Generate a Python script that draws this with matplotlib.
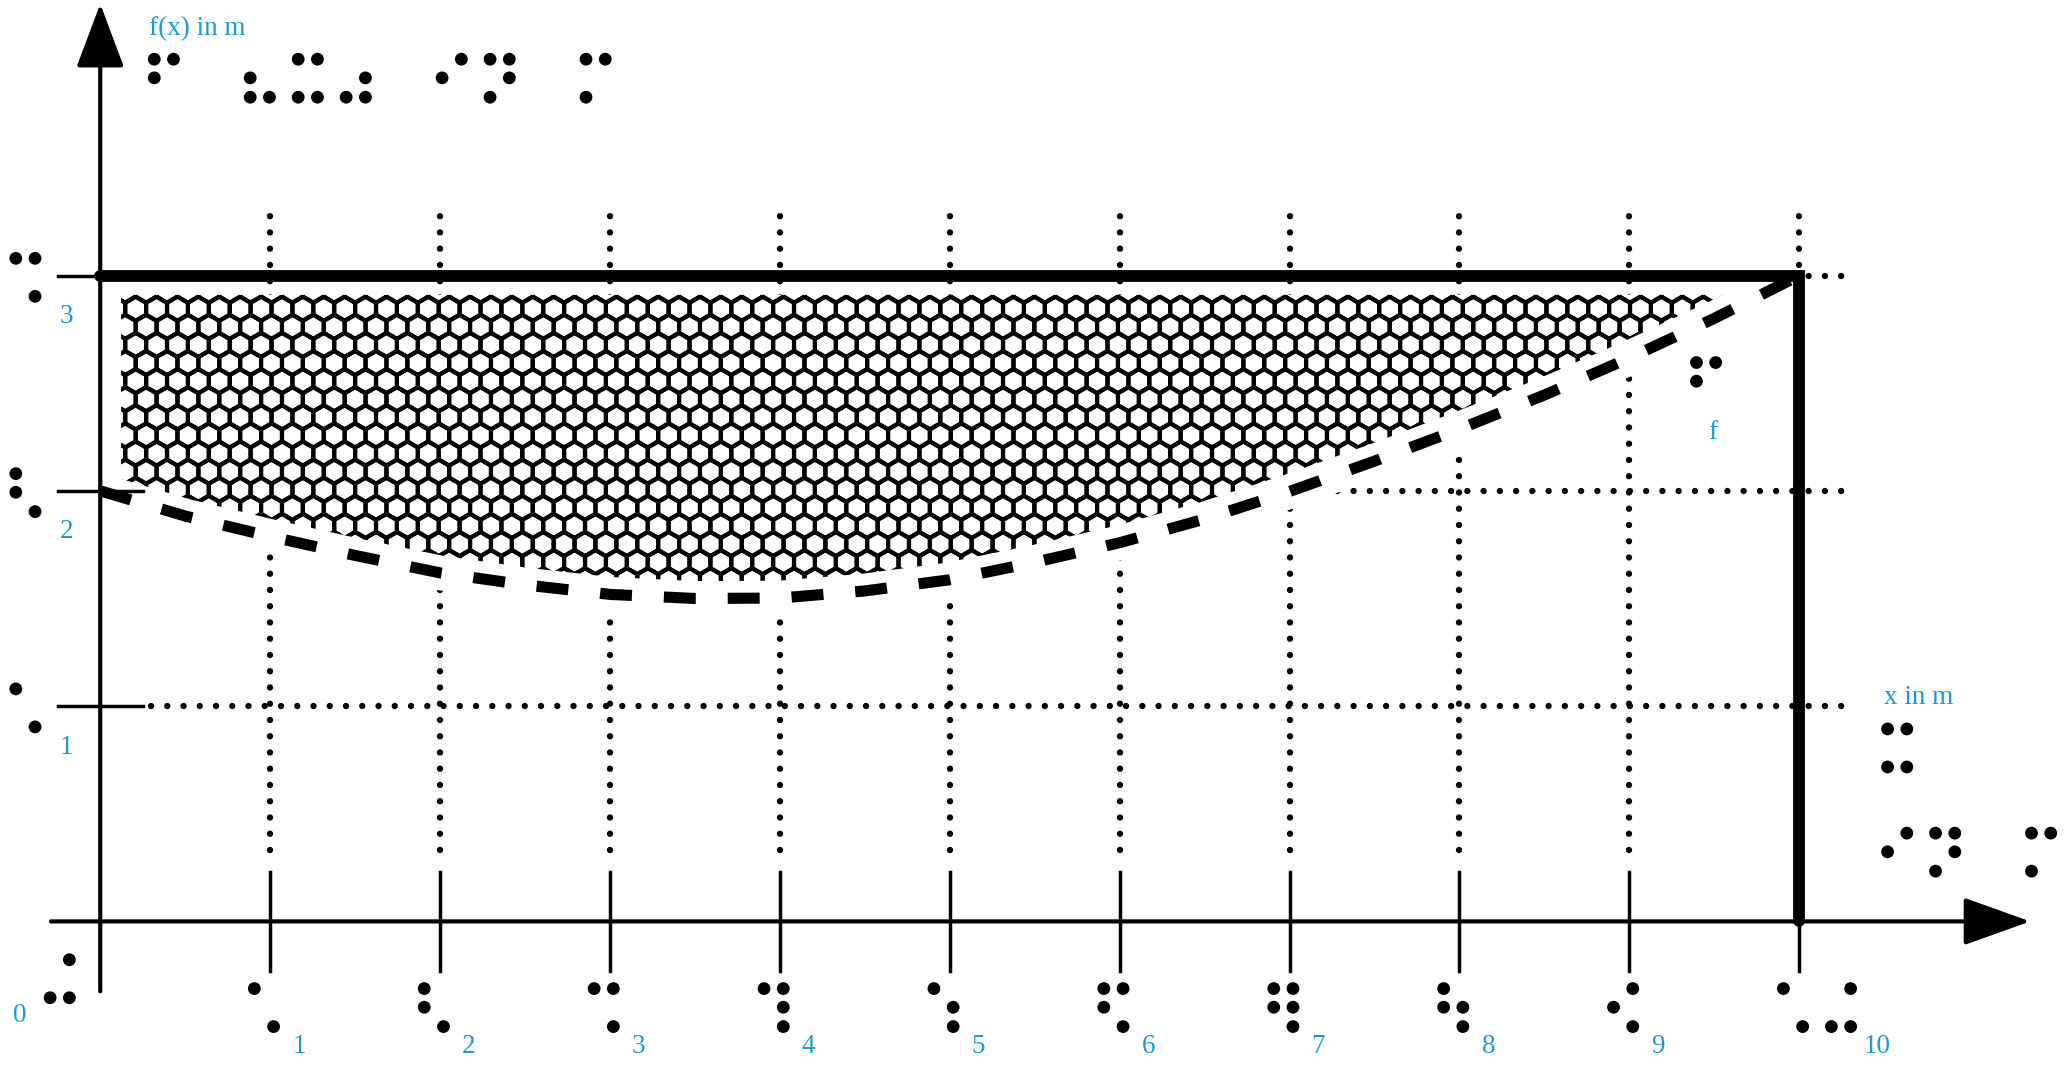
import numpy as np
import matplotlib
matplotlib.use("Agg")
import matplotlib.pyplot as plt
from matplotlib.font_manager import FontProperties
from matplotlib.textpath import TextPath
from matplotlib.transforms import offset_copy, IdentityTransform
from matplotlib.collections import PolyCollection
from matplotlib.patches import Polygon
from matplotlib.patheffects import AbstractPathEffect
from matplotlib.path import Path

plt.rcParams['lines.scale_dashes'] = False

# ---------------- data ----------------
x_ticks = [1, 2, 3, 4, 5, 6, 7, 8, 9, 10]
x_tick_labels = ['1', '2', '3', '4', '5', '6', '7', '8', '9', '10']
x_tick_braille = ['⠡', '⠣', '⠩', '⠹', '⠱', '⠫', '⠻', '⠳', '⠪', '⠡⠬']
y_ticks = [1, 2, 3]
y_tick_labels = ['1', '2', '3']
y_tick_braille = ['⠡', '⠣', '⠩']
zero_label = '0'
zero_braille = '⠬'

curve_x = [0.0, 0.5, 1.0, 1.5, 2.0, 2.5, 3.0, 3.5, 4.0, 4.5, 5.0,
           5.5, 6.0, 6.5, 7.0, 7.5, 8.0, 8.5, 9.0, 9.5, 10.0]
curve_y = [2.00, 1.883, 1.788, 1.700, 1.619, 1.563, 1.519, 1.500, 1.502, 1.535, 1.587,
           1.668, 1.759, 1.869, 1.997, 2.138, 2.287, 2.445, 2.617, 2.801, 3.00]
curve_name = 'f'
curve_braille = '⠋'

rect_right = 10.0
rect_top = 3.0

y_title = 'f(x) in m'
y_title_braille = '⠋⠀⠦⠭⠴⠀⠊⠝⠀⠍'
x_title = 'x in m'
x_title_braille = ['⠭', '⠊⠝⠀⠍']

BLUE = '#1a9bd7'

# ---------------- figure ----------------
W, H = 2067, 1065
fig = plt.figure(figsize=(W / 100, H / 100), dpi=100)
ax = fig.add_axes([0, 0, 1, 1])
XL, XR, YB, YT = -0.590, 11.576, -0.667, 4.280
ax.set_xlim(XL, XR)
ax.set_ylim(YB, YT)
ax.axis('off')
sx = W / (XR - XL)   # px per x unit
sy = H / (YT - YB)   # px per y unit

# ---------------- dotted grid ----------------
dot_style = dict(color='black', lw=4.6, ls=(0, (0.001, 11.7)),
                 dash_capstyle='round', zorder=1)
for t in x_ticks:
    ax.plot([t, t], [0.33, 3.28], **dot_style)
for t in y_ticks:
    ax.plot([0.30, 10.31], [t, t], **dot_style)

# ---------------- honeycomb region ----------------
cx_arr = np.asarray(curve_x, float)
cy_arr = np.asarray(curve_y, float)
region_left = 0.124
region_top = 2.91
bottom = np.minimum(cy_arr, region_top)
poly_pts = [(max(x, region_left), y) for x, y in zip(cx_arr, bottom)]
poly_pts += [(rect_right, region_top), (region_left, region_top)]
region = Polygon(poly_pts, closed=True, facecolor='white', edgecolor='none', zorder=2)
ax.add_patch(region)

hex_w_px = 20.9
r_px = hex_w_px / np.sqrt(3)
row_px = 1.5 * r_px
ang = np.deg2rad([90, 150, 210, 270, 330, 30])
hx = r_px * np.cos(ang) / sx
hy = r_px * np.sin(ang) / sy
verts = []
j = 0
yc = region_top + 0.02
while yc > 1.3:
    off = (j % 2) * hex_w_px / 2 / sx
    xc = region_left - 0.1 + off
    while xc < rect_right + 0.1:
        verts.append(np.column_stack([xc + hx, yc + hy]))
        xc += hex_w_px / sx
    yc -= row_px / sy
    j += 1
hexes = PolyCollection(verts, facecolors='none', edgecolors='black',
                       linewidths=3.0, zorder=3)
ax.add_collection(hexes)
hexes.set_clip_path(region)

# ---------------- curve f ----------------
ax.plot(curve_x, curve_y, color='white', lw=25, solid_capstyle='butt', zorder=4)
ax.plot(curve_x, curve_y, color='black', lw=8, ls=(0, (23, 23)),
        dash_capstyle='butt', zorder=5)

# ---------------- axes ----------------
ax.annotate('', xy=(11.36, 0), xytext=(-0.29, 0), zorder=6,
            arrowprops=dict(arrowstyle='-|>,head_length=4.2,head_width=1.5',
                            mutation_scale=10, lw=3, color='black',
                            shrinkA=0, shrinkB=0))
ax.annotate('', xy=(0, 4.262), xytext=(0, -0.325), zorder=6,
            arrowprops=dict(arrowstyle='-|>,head_length=4.0,head_width=1.5',
                            mutation_scale=10, lw=3, color='black',
                            shrinkA=0, shrinkB=0))
for t in x_ticks:
    ax.plot([t, t], [-0.23, 0.23], color='black', lw=2.5, zorder=6)
for t in y_ticks:
    ax.plot([-0.25, 0.25], [t, t], color='black', lw=2.5, zorder=6)

# thick frame
ax.plot([0, rect_right, rect_right], [rect_top, rect_top, 0], color='black', lw=8.5,
        solid_capstyle='round', solid_joinstyle='miter', zorder=7)


# ---------------- braille helper ----------------
class RoundBrailleDots(AbstractPathEffect):
    """Render the (square) braille glyph dots as round dots."""

    def __init__(self, radius_pt=4.4, kx=0.948):
        super().__init__()
        self.radius_pt = radius_pt
        self.kx = kx

    def draw_path(self, renderer, gc, tpath, affine, rgbFace=None):
        r = renderer.points_to_pixels(self.radius_pt)
        ox, oy = affine.transform((0, 0))
        circles = []
        for p in tpath.to_polygons(affine):
            q = p[:-1] if len(p) > 1 and np.allclose(p[0], p[-1]) else p
            c = q.mean(axis=0)
            circles.append(Path.circle((ox + (c[0] - ox) * self.kx, c[1]), r))
        if circles:
            renderer.draw_path(gc, Path.make_compound_path(*circles),
                               IdentityTransform(), rgbFace)


KX = 0.948
br_fp = FontProperties(family='DejaVu Sans')
full = TextPath((0, 0), '⠿', size=100, prop=br_fp).get_extents()
one = TextPath((0, 0), '⠁', size=100, prop=br_fp).get_extents()
two = TextPath((0, 0), '⠿⠿', size=100, prop=br_fp).get_extents()
d100 = one.width
vs100 = (full.height - d100) / 2
BR_SIZE = 100 * (19 * 0.72) / vs100
k = BR_SIZE / 100
dot_cx = (one.x0 + d100 / 2) * k * KX
dot_cy = (one.y1 - d100 / 2) * k
round_fx = [RoundBrailleDots(4.6, KX)]


def braille(x, y, s):
    tr = offset_copy(ax.transData, fig=fig, x=-dot_cx, y=-dot_cy, units='points')
    ax.text(x, y, s, fontproperties=br_fp, fontsize=BR_SIZE, transform=tr,
            ha='left', va='baseline', color='black', zorder=8,
            path_effects=round_fx)


lab_font = dict(family='Liberation Serif', size=19.5, color=BLUE, zorder=8)

# x tick labels
for t, lab, br in zip(x_ticks, x_tick_labels, x_tick_braille):
    braille(t - 0.093, -0.312, br)
    ax.text(t + 0.13 + (len(br) - 1) * 0.25, -0.58, lab,
            ha='left', va='center', **lab_font)

# y tick labels
for t, lab, br in zip(y_ticks, y_tick_labels, y_tick_braille):
    braille(-0.497, t + 0.08, br)
    ax.text(-0.2, t - 0.19, lab, ha='center', va='center', **lab_font)

braille(-0.295, -0.178, zero_braille)
ax.text(-0.473, -0.435, zero_label, ha='center', va='center', **lab_font)

# titles
ax.text(0.287, 4.146, y_title, ha='left', va='center', **lab_font)
braille(0.318, 4.005, y_title_braille)
ax.text(10.50, 1.04, x_title, ha='left', va='center', **lab_font)
braille(10.52, 0.894, x_title_braille[0])
braille(10.52, 0.41, x_title_braille[1])

# curve name
ax.text(9.49, 2.27, curve_name, ha='center', va='center', **lab_font)
braille(9.395, 2.596, curve_braille)

fig.savefig('out.png', dpi=100, facecolor='white')
